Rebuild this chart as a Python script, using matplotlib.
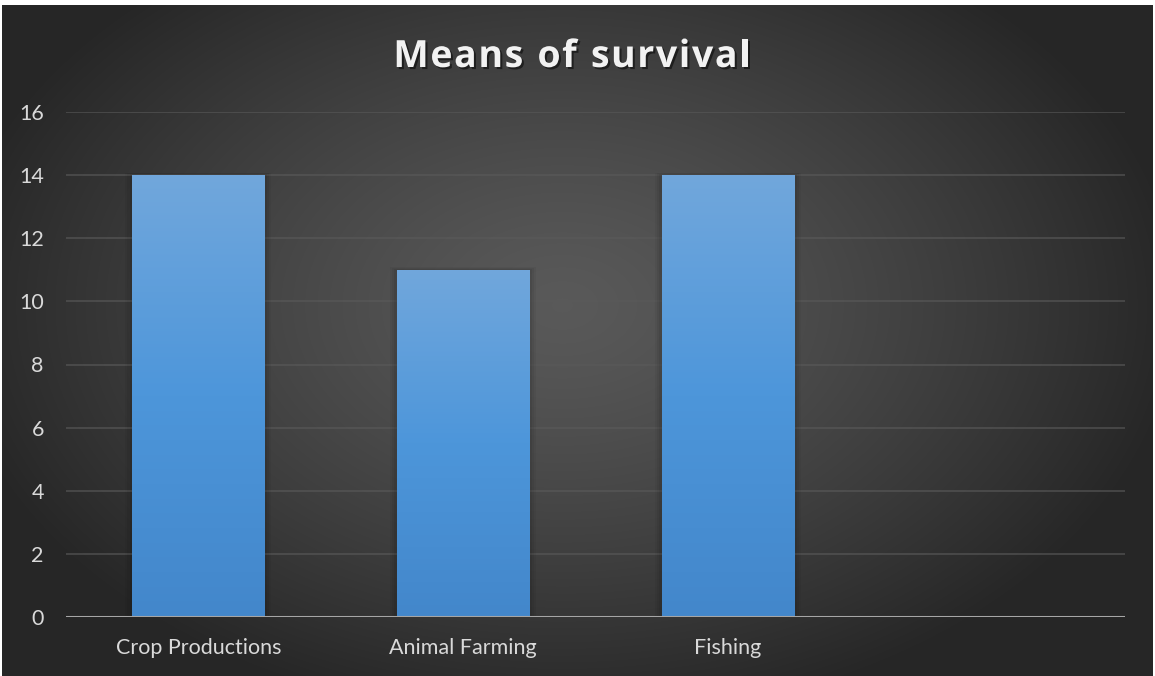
import numpy as np
import matplotlib.pyplot as plt
import matplotlib.patheffects as pe
from matplotlib.colors import LinearSegmentedColormap

categories = ['Crop Productions', 'Animal Farming', 'Fishing', '']
values = [14, 11, 14, 0]
yticks = [0, 2, 4, 6, 8, 10, 12, 14, 16]
title = 'Means of survival'

plt.rcParams['font.family'] = ['Lato', 'DejaVu Sans']

W, H = 1155, 676
fig = plt.figure(figsize=(W / 100, H / 100), dpi=100, facecolor='white')

# radial dark background (thin white strip left/top)
bg = fig.add_axes([2 / W, 0, (W - 4) / W, (H - 5) / H], zorder=0)
yy, xx = np.mgrid[0:H - 5, 0:W - 4]
cx, cy = 560, 300
r = np.sqrt(((xx - cx) / 620.0) ** 2 + ((yy - cy) / 420.0) ** 2)
r = np.clip(r, 0, 1)
shade = 0.35 - (0.35 - 0.15) * r ** 1.3
bg.imshow(np.dstack([shade] * 3), aspect='auto', interpolation='bilinear')
bg.axis('off')

ax = fig.add_axes([66 / W, 59 / H, 1059 / W, 505 / H], zorder=1)
ax.set_facecolor('none')

for t in yticks[1:]:
    ax.axhline(t, color='#5a5a5a', lw=1.3, alpha=0.65, zorder=1)
ax.axhline(0, color='#a6a6a6', lw=2.2, zorder=4)

bar_cmap = LinearSegmentedColormap.from_list('bar', ['#4387cb', '#4d96da', '#71a7dc'])
width = 0.5
bars = ax.bar(range(len(categories)), values, width=width, color='none', zorder=3)
for b, v in zip(bars, values):
    if v <= 0:
        continue
    x0 = b.get_x()
    # soft shadow around the bar
    for k, a in [(0.026, 0.04), (0.018, 0.05), (0.010, 0.06)]:
        ax.add_patch(plt.Rectangle((x0 - k, 0), width + 2 * k, v + k * 3,
                                   color='black', alpha=a, lw=0, zorder=2))
    grad = np.linspace(0, 1, 256).reshape(-1, 1)
    im = ax.imshow(grad, cmap=bar_cmap, origin='lower', aspect='auto',
                   extent=(x0, x0 + width, 0, v), zorder=3, interpolation='bilinear')
    im.set_clip_path(b)
ax.set_xlim(-0.5, len(categories) - 0.5)
ax.set_ylim(0, 16)

ax.set_yticks(yticks)
ax.set_yticklabels([str(t) for t in yticks])
ax.set_xticks(range(len(categories)))
ax.set_xticklabels(categories)
ax.tick_params(axis='y', length=0, pad=16, labelsize=15.5, labelcolor='#d9d9d9')
ax.tick_params(axis='x', length=0, pad=15, labelsize=15.5, labelcolor='#d9d9d9')
for s in ax.spines.values():
    s.set_visible(False)

# letter-spaced title, one glyph at a time
renderer = fig.canvas.get_renderer()
tkw = dict(fontsize=27, fontweight='bold', color='#f2f2f2', va='baseline',
           family=['Open Sans', 'DejaVu Sans'],
           path_effects=[pe.withSimplePatchShadow(offset=(1.5, -1.5),
                                                   shadow_rgbFace='black', alpha=0.5)])
spacing = 1.6
widths = []
for ch in title:
    t = fig.text(0, 0, ch.replace(' ', '\u00a0') if ch == ' ' else ch, **tkw)
    if ch == ' ':
        t.set_text('n')
        w = t.get_window_extent(renderer).width * 0.45
    else:
        w = t.get_window_extent(renderer).width
    t.remove()
    widths.append(w)
total = sum(widths) + spacing * (len(title) - 1)
x = 572 - total / 2
base_y = H - 67
for ch, w in zip(title, widths):
    if ch != ' ':
        fig.text(x / W, base_y / H, ch, ha='left', **tkw)
    x += w + spacing

fig.savefig('out.png', dpi=100, facecolor='white')
